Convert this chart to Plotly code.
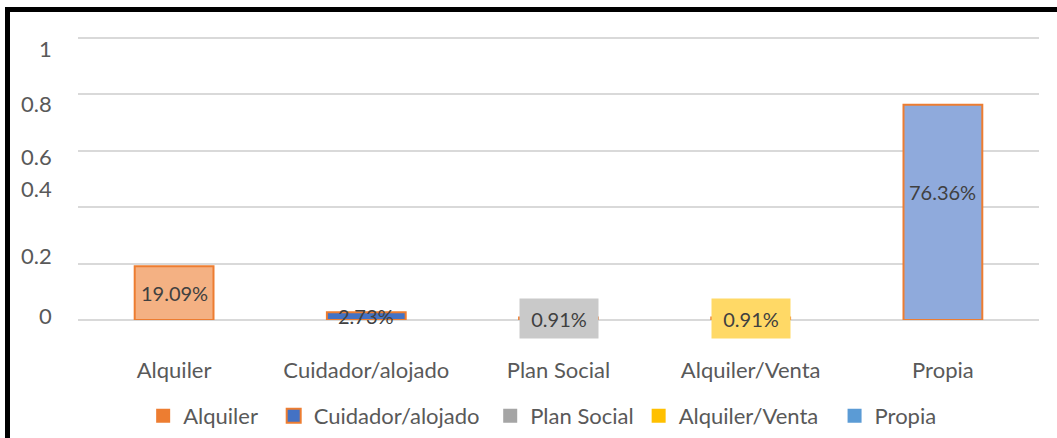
import plotly.graph_objects as go

categories = ["Alquiler", "Cuidador/alojado", "Plan Social", "Alquiler/Venta", "Propia"]
values = [0.1909, 0.0273, 0.0091, 0.0091, 0.7636]
labels = ["19.09%", "2.73%", "0.91%", "0.91%", "76.36%"]
bar_fill = ["#F4B183", "#4472C4", "#A5A5A5", "#FFC000", "#8FAADC"]
legend_colors = ["#ED7D31", "#4472C4", "#A5A5A5", "#FFC000", "#5B9BD5"]
label_bg = [None, None, "#C9C9C9", "#FFD966", None]
label_shift = [0, 0, 0, 0, 20]
legend_pad = [2, 1, 0, 2, 0]
tick_vals = [0, 0.2, 0.4, 0.6, 0.8, 1]
tick_text = ["0", "0.2", "0.4", "0.6", "0.8", "1"]
tick_shift = [5, 8, 19, -6, -9, -10]

W, H = 1057, 438
L, R, T, B = 78, 18, 34, 118
YTOP = (H - B - T) / 282.0
FONT = "Lato"
TXT = "#595959"

fig = go.Figure()
fig.add_trace(go.Bar(
    x=categories, y=values, width=0.41,
    marker=dict(color=bar_fill, line=dict(color="#ED7D31", width=2)),
    showlegend=False, hoverinfo="skip",
))
for i, c in enumerate(categories):
    fig.add_trace(go.Scatter(
        x=[None], y=[None], mode="markers", name=c + "\u00a0" * legend_pad[i],
        marker=dict(symbol="square", size=14, color=legend_colors[i],
                    line=dict(color="#ED7D31" if i == 1 else legend_colors[i], width=2 if i == 1 else 0)),
    ))

annotations = []
for i, c in enumerate(categories):
    a = dict(x=c, y=values[i] / 2, xref="x", yref="y", text=labels[i], showarrow=False,
             font=dict(family=FONT, size=20, color="#404040"), yshift=label_shift[i])
    if label_bg[i]:
        a.update(bgcolor=label_bg[i], width=76, height=37)
    annotations.append(a)
pw, ph = W - L - R, H - T - B
for v, t, s in zip(tick_vals, tick_text, tick_shift):
    annotations.append(dict(x=-(L - 54) / pw, xref="paper", y=v, yref="y", text=t,
                            xanchor="right", showarrow=False, yshift=s,
                            font=dict(family=FONT, size=22, color=TXT)))

shapes = [
    dict(type="line", xref="paper", yref="paper", x0=(7.5 - L) / pw, x1=(7.5 - L) / pw,
         y0=1 + (T - 7) / ph, y1=-(B + 5) / ph, line=dict(color="black", width=5)),
    dict(type="line", xref="paper", yref="paper", x0=(5 - L) / pw, x1=(W + 5 - L) / pw,
         y0=1 + (T - 9.5) / ph, y1=1 + (T - 9.5) / ph, line=dict(color="black", width=5)),
]

fig.update_layout(
    width=W, height=H,
    margin=dict(l=L, r=R, t=T, b=B, autoexpand=False),
    paper_bgcolor="white", plot_bgcolor="white",
    font=dict(family=FONT, size=22, color=TXT),
    xaxis=dict(showgrid=False, showline=False, ticks="", ticklabelstandoff=35, automargin=False,
               tickfont=dict(family=FONT, size=22, color=TXT)),
    yaxis=dict(range=[0, YTOP], tickvals=tick_vals, showticklabels=False, gridcolor="#D9D9D9",
               gridwidth=1.5, zeroline=True, zerolinecolor="#D9D9D9", zerolinewidth=1.5,
               showline=False, automargin=False),
    legend=dict(orientation="h", x=0.483, xanchor="center", y=-(416 - (H - B)) / ph, yanchor="middle",
                font=dict(family=FONT, size=22, color=TXT), itemwidth=30, tracegroupgap=0),
    annotations=annotations, shapes=shapes,
    showlegend=True,
)

fig.write_html("out.html", config={"displayModeBar": False},
               post_script="document.body.style.margin='0';document.body.style.overflow='hidden';")
